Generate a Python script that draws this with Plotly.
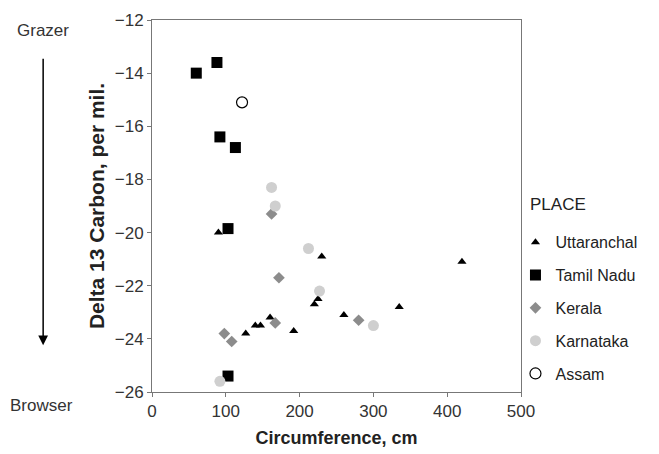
import plotly.graph_objects as go

# circumference (cm) and delta 13 carbon (per mil) by place
utt_x = [90, 230, 225, 220, 160, 140, 147, 127, 192, 420, 335, 260]
utt_y = [-20.0, -20.9, -22.5, -22.7, -23.2, -23.5, -23.5, -23.8, -23.7, -21.1, -22.8, -23.1]
tn_x = [60, 88, 92, 113, 103, 103]
tn_y = [-14.0, -13.6, -16.4, -16.8, -19.85, -25.4]
ker_x = [162, 172, 167, 98, 108, 280]
ker_y = [-19.3, -21.7, -23.4, -23.8, -24.1, -23.3]
kar_x = [162, 167, 212, 227, 300, 92]
kar_y = [-18.3, -19.0, -20.6, -22.2, -23.5, -25.6]
ass_x = [122]
ass_y = [-15.1]

fig = go.Figure()
series = [
    ("Uttaranchal", utt_x, utt_y, dict(symbol="triangle-up", size=8, color="black")),
    ("Tamil Nadu", tn_x, tn_y, dict(symbol="square", size=11, color="black")),
    ("Kerala", ker_x, ker_y, dict(symbol="diamond", size=9, color="#8c8c8c")),
    ("Karnataka", kar_x, kar_y, dict(symbol="circle", size=11, color="#cfcfcf")),
    ("Assam", ass_x, ass_y, dict(symbol="circle-open", size=11, color="black",
                                 line=dict(width=1.2))),
]
for i, (name, xs, ys, mk) in enumerate(series):
    fig.add_trace(go.Scatter(x=xs, y=ys, mode="markers", name=name, marker=mk,
                             legendgroup=str(i)))

axis_font = dict(family="Arial", size=17, color="#333")
fig.update_xaxes(range=[0, 500], dtick=100, ticks="outside", ticklen=4,
                 tickcolor="#777", showline=True, linecolor="#777", mirror=True,
                 showgrid=False, zeroline=False, tickfont=axis_font, automargin=False,
                 title=dict(text="<b>Circumference, cm</b>",
                            font=dict(family="Arial", size=18, color="#222"), standoff=10))
fig.update_yaxes(range=[-26, -12], dtick=2, ticks="outside", ticklen=4,
                 tickcolor="#777", showline=True, linecolor="#777", mirror=True,
                 showgrid=False, zeroline=False, tickfont=axis_font, automargin=False,
                 title=dict(text="<b>Delta 13 Carbon, per mil.</b>",
                            font=dict(family="Arial", size=21, color="#222"), standoff=4))

ann_font = dict(family="Arial", size=17, color="#333")
fig.add_annotation(text="Grazer", xref="paper", yref="paper", x=-0.295, y=0.973,
                   xanchor="center", yanchor="middle", showarrow=False, font=ann_font)
fig.add_annotation(text="Browser", xref="paper", yref="paper", x=-0.30, y=-0.035,
                   xanchor="center", yanchor="middle", showarrow=False, font=ann_font)
fig.add_annotation(text="", xref="paper", yref="paper", x=-0.295, y=0.126,
                   ax=0, ay=-288, showarrow=True, arrowhead=2, arrowsize=1.3,
                   arrowwidth=1.5, arrowcolor="black")
fig.add_annotation(text="PLACE", xref="paper", yref="paper", x=1.02, y=0.505,
                   xanchor="left", yanchor="middle", showarrow=False,
                   font=dict(family="Arial", size=17, color="#222"))

# page body has an 8px margin, so the figure is a little smaller than the window
fig.update_layout(
    width=651, height=446, plot_bgcolor="white", paper_bgcolor="white",
    margin=dict(l=144, r=138, t=12, b=62),
    legend=dict(x=0.985, y=0.448, xanchor="left", yanchor="top",
                bgcolor="rgba(0,0,0,0)",
                font=dict(family="Arial", size=16, color="#222"),
                traceorder="grouped", tracegroupgap=9, itemwidth=30),
)
fig.write_html("out.html")
